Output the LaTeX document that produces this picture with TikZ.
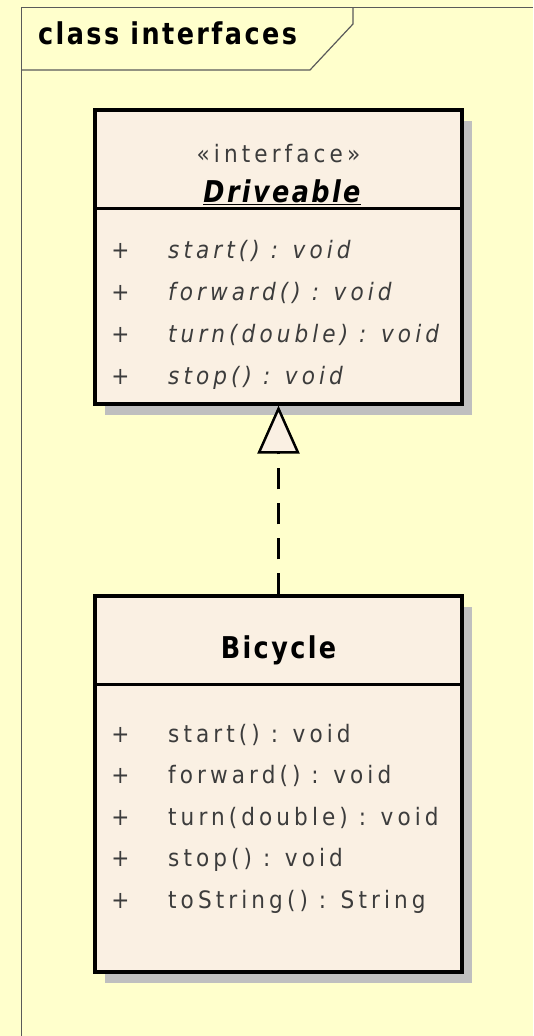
\documentclass[tikz,border=0pt]{standalone}
\usepackage{fontspec}
\setmainfont{DejaVu Sans}
\newfontfamily\headfont[FakeStretch=0.85,LetterSpace=8]{DejaVu Sans}
\newfontfamily\memberfont[FakeStretch=0.9,LetterSpace=17]{DejaVu Sans}
\usetikzlibrary{arrows.meta,positioning,shadows}
\usepackage{tikz}

\definecolor{bgyellow}{HTML}{FFFFCC}
\definecolor{boxfill}{HTML}{FAF0E3}
\definecolor{framegray}{HTML}{5A5A5A}
\definecolor{membergray}{HTML}{3C3C3C}

\begin{document}
\begin{tikzpicture}[x=1pt,y=-1pt,
    classbox/.style={draw=black,line width=3.2pt,fill=boxfill,
        drop shadow={shadow xshift=10pt,shadow yshift=-11pt,opacity=1,fill=black!25}},
    sepline/.style={line width=3pt},
    member/.style={inner sep=0pt,text=membergray,font=\memberfont\fontsize{24}{24}\selectfont},
    headtext/.style={inner sep=0pt,font=\headfont\bfseries\fontsize{30}{30}\selectfont},
    realize/.style={line width=2.5pt,dash pattern=on 21pt off 14pt,
        -{Triangle[open,length=48pt,width=42pt,fill=boxfill]}}]

    %\draw[step=50,help lines] (0,0) grid (533,1036);

    \fill[bgyellow] (0,0) rectangle (533,1036);
    \useasboundingbox (0,0) rectangle (533,1036);

    % frame and its tab
    \draw[framegray,line width=1.5pt] (21.5,1036) -- (21.5,7.5) -- (533,7.5);
    \draw[framegray,line width=1.2pt] (21.5,70) -- (310,70) -- (353,24) -- (353,7.5);
    \node[headtext,anchor=base west] (title) at (38,44) {class interfaces};

    % interface Driveable
    \node[classbox,minimum width=367pt,minimum height=294pt] (drv) at (278.5,257) {};
    \draw[sepline] (drv.west |- 0,208) -- (drv.east |- 0,208);
    \node[member,anchor=base] (stereo) at (278.5,162) {«interface»};
    \node[headtext,anchor=base] (drvname) at (282,202) {\itshape\underline{Driveable}};

    \node[member,anchor=base] (dplus1) at (120.5,258) {+};
    \node[member,anchor=base] (dplus2) at (120.5,300) {+};
    \node[member,anchor=base] (dplus3) at (120.5,342) {+};
    \node[member,anchor=base] (dplus4) at (120.5,384) {+};
    \node[member,anchor=base west] (dstart) at (168,258) {\itshape start() : void};
    \node[member,anchor=base west] (dforward) at (168,300) {\itshape forward() : void};
    \node[member,anchor=base west] (dturn) at (168,342) {\itshape turn(double) : void};
    \node[member,anchor=base west] (dstop) at (168,384) {\itshape stop() : void};

    % class Bicycle
    \node[classbox,minimum width=367pt,minimum height=376pt] (bic) at (278.5,784) {};
    \draw[sepline] (bic.west |- 0,684) -- (bic.east |- 0,684);
    \node[headtext,anchor=base] (bicname) at (278.5,658) {Bicycle};

    \node[member,anchor=base] (bplus1) at (120.5,742) {+};
    \node[member,anchor=base] (bplus2) at (120.5,783.5) {+};
    \node[member,anchor=base] (bplus3) at (120.5,825) {+};
    \node[member,anchor=base] (bplus4) at (120.5,866.5) {+};
    \node[member,anchor=base] (bplus5) at (120.5,908) {+};
    \node[member,anchor=base west] (bstart) at (168,742) {start() : void};
    \node[member,anchor=base west] (bforward) at (168,783.5) {forward() : void};
    \node[member,anchor=base west] (bturn) at (168,825) {turn(double) : void};
    \node[member,anchor=base west] (bstop) at (168,866.5) {stop() : void};
    \node[member,anchor=base west] (btostring) at (168,908) {toString() : String};

    \draw[realize] (bic.north) -- (drv.south);
\end{tikzpicture}
\end{document}
